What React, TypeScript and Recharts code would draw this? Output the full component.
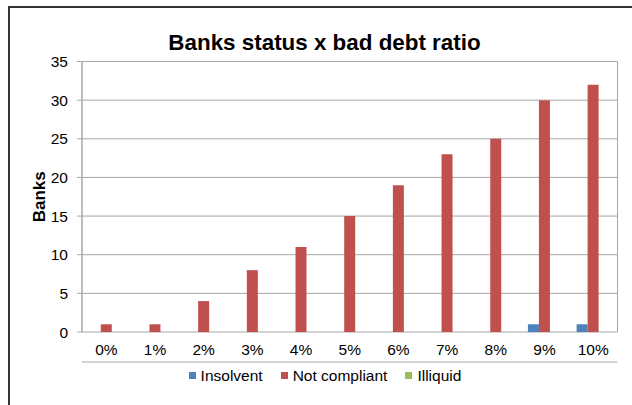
import React from "react";
import {
  BarChart,
  Bar,
  XAxis,
  YAxis,
  CartesianGrid,
  Legend,
  Label,
} from "recharts";

const categories = ["0%", "1%", "2%", "3%", "4%", "5%", "6%", "7%", "8%", "9%", "10%"];
const insolvent = [0, 0, 0, 0, 0, 0, 0, 0, 0, 1, 1];
const notCompliant = [1, 1, 4, 8, 11, 15, 19, 23, 25, 30, 32];
const illiquid = [0, 0, 0, 0, 0, 0, 0, 0, 0, 0, 0];
const seriesNames = ["Insolvent", "Not compliant", "Illiquid"];
const yTicks = [0, 5, 10, 15, 20, 25, 30, 35];

const data = categories.map((ratio, i) => ({
  ratio,
  insolvent: insolvent[i],
  notCompliant: notCompliant[i],
  illiquid: illiquid[i],
}));

// category edges 0..n, used for excel-style grid lines and tick marks between groups
const edges = Array.from({ length: categories.length + 1 }, (_, i) => i);

const FONT = '"Liberation Sans", Arial, sans-serif';
const GRID = "#a6a6a6";

function LegendContent(props: any) {
  const items = [...(props.payload || [])].sort(
    (a: any, b: any) => seriesNames.indexOf(a.value) - seriesNames.indexOf(b.value)
  );
  return (
    <div
      style={{
        display: "flex",
        justifyContent: "center",
        fontFamily: FONT,
        fontSize: 15.5,
        lineHeight: "18px",
        color: "#000",
      }}
    >
      {items.map((item: any, i: number) => (
        <div
          key={item.value}
          style={{
            display: "flex",
            alignItems: "center",
            marginLeft: i === 0 ? 0 : 18,
          }}
        >
          <span
            style={{
              width: 7,
              height: 7,
              background: item.color,
              marginRight: 5,
              display: "inline-block",
            }}
          />
          <span>{item.value}</span>
        </div>
      ))}
    </div>
  );
}

export default function App() {
  return (
    <div
      style={{
        position: "fixed",
        left: 8,
        top: 6,
        width: 624,
        height: 399,
        borderTop: "2px solid #333",
        borderLeft: "2px solid #333",
        background: "#fff",
        boxSizing: "border-box",
        overflow: "hidden",
      }}
    >
      <BarChart
        width={622}
        height={397}
        data={data}
        margin={{ top: 53.5, right: 14.5, left: 0, bottom: 42 }}
        barCategoryGap="16%"
        barGap={0}
      >
        <XAxis
          xAxisId="edges"
          type="number"
          domain={[0, categories.length]}
          ticks={edges}
          tick={false}
          tickSize={5}
          height={1}
          stroke={GRID}
          allowDataOverflow
        />
        <XAxis
          dataKey="ratio"
          axisLine={false}
          tickLine={false}
          tickSize={0}
          tickMargin={12}
          height={30}
          interval={0}
          tick={{ fill: "#000", fontFamily: FONT, fontSize: 15.5 }}
        />
        <YAxis
          domain={[0, 35]}
          ticks={yTicks}
          width={72}
          tickSize={5}
          tickMargin={9}
          stroke={GRID}
          tick={{ fill: "#000", fontFamily: FONT, fontSize: 15.5 }}
        >
          <Label
            value="Banks"
            angle={-90}
            position="insideLeft"
            offset={29}
            style={{
              textAnchor: "middle",
              fontFamily: FONT,
              fontSize: 17,
              fontWeight: "bold",
              fill: "#000",
            }}
          />
        </YAxis>
        <CartesianGrid xAxisId="edges" stroke={GRID} />
        <Legend
          verticalAlign="middle"
          layout="horizontal"
          width={610}
          itemSorter={null}
          wrapperStyle={{ top: 358.5, left: 10 }}
          content={<LegendContent />}
        />
        <Bar dataKey="insolvent" name="Insolvent" fill="#4f81bd" isAnimationActive={false} />
        <Bar dataKey="notCompliant" name="Not compliant" fill="#c0504d" isAnimationActive={false} />
        <Bar dataKey="illiquid" name="Illiquid" fill="#9bbb59" isAnimationActive={false} />
      </BarChart>
      <div
        style={{
          position: "absolute",
          left: 10,
          top: 21.8,
          width: 609,
          textAlign: "center",
          fontFamily: FONT,
          fontSize: 22.4,
          fontWeight: "bold",
          lineHeight: "26px",
          color: "#000",
        }}
      >
        Banks status x bad debt ratio
      </div>
    </div>
  );
}
